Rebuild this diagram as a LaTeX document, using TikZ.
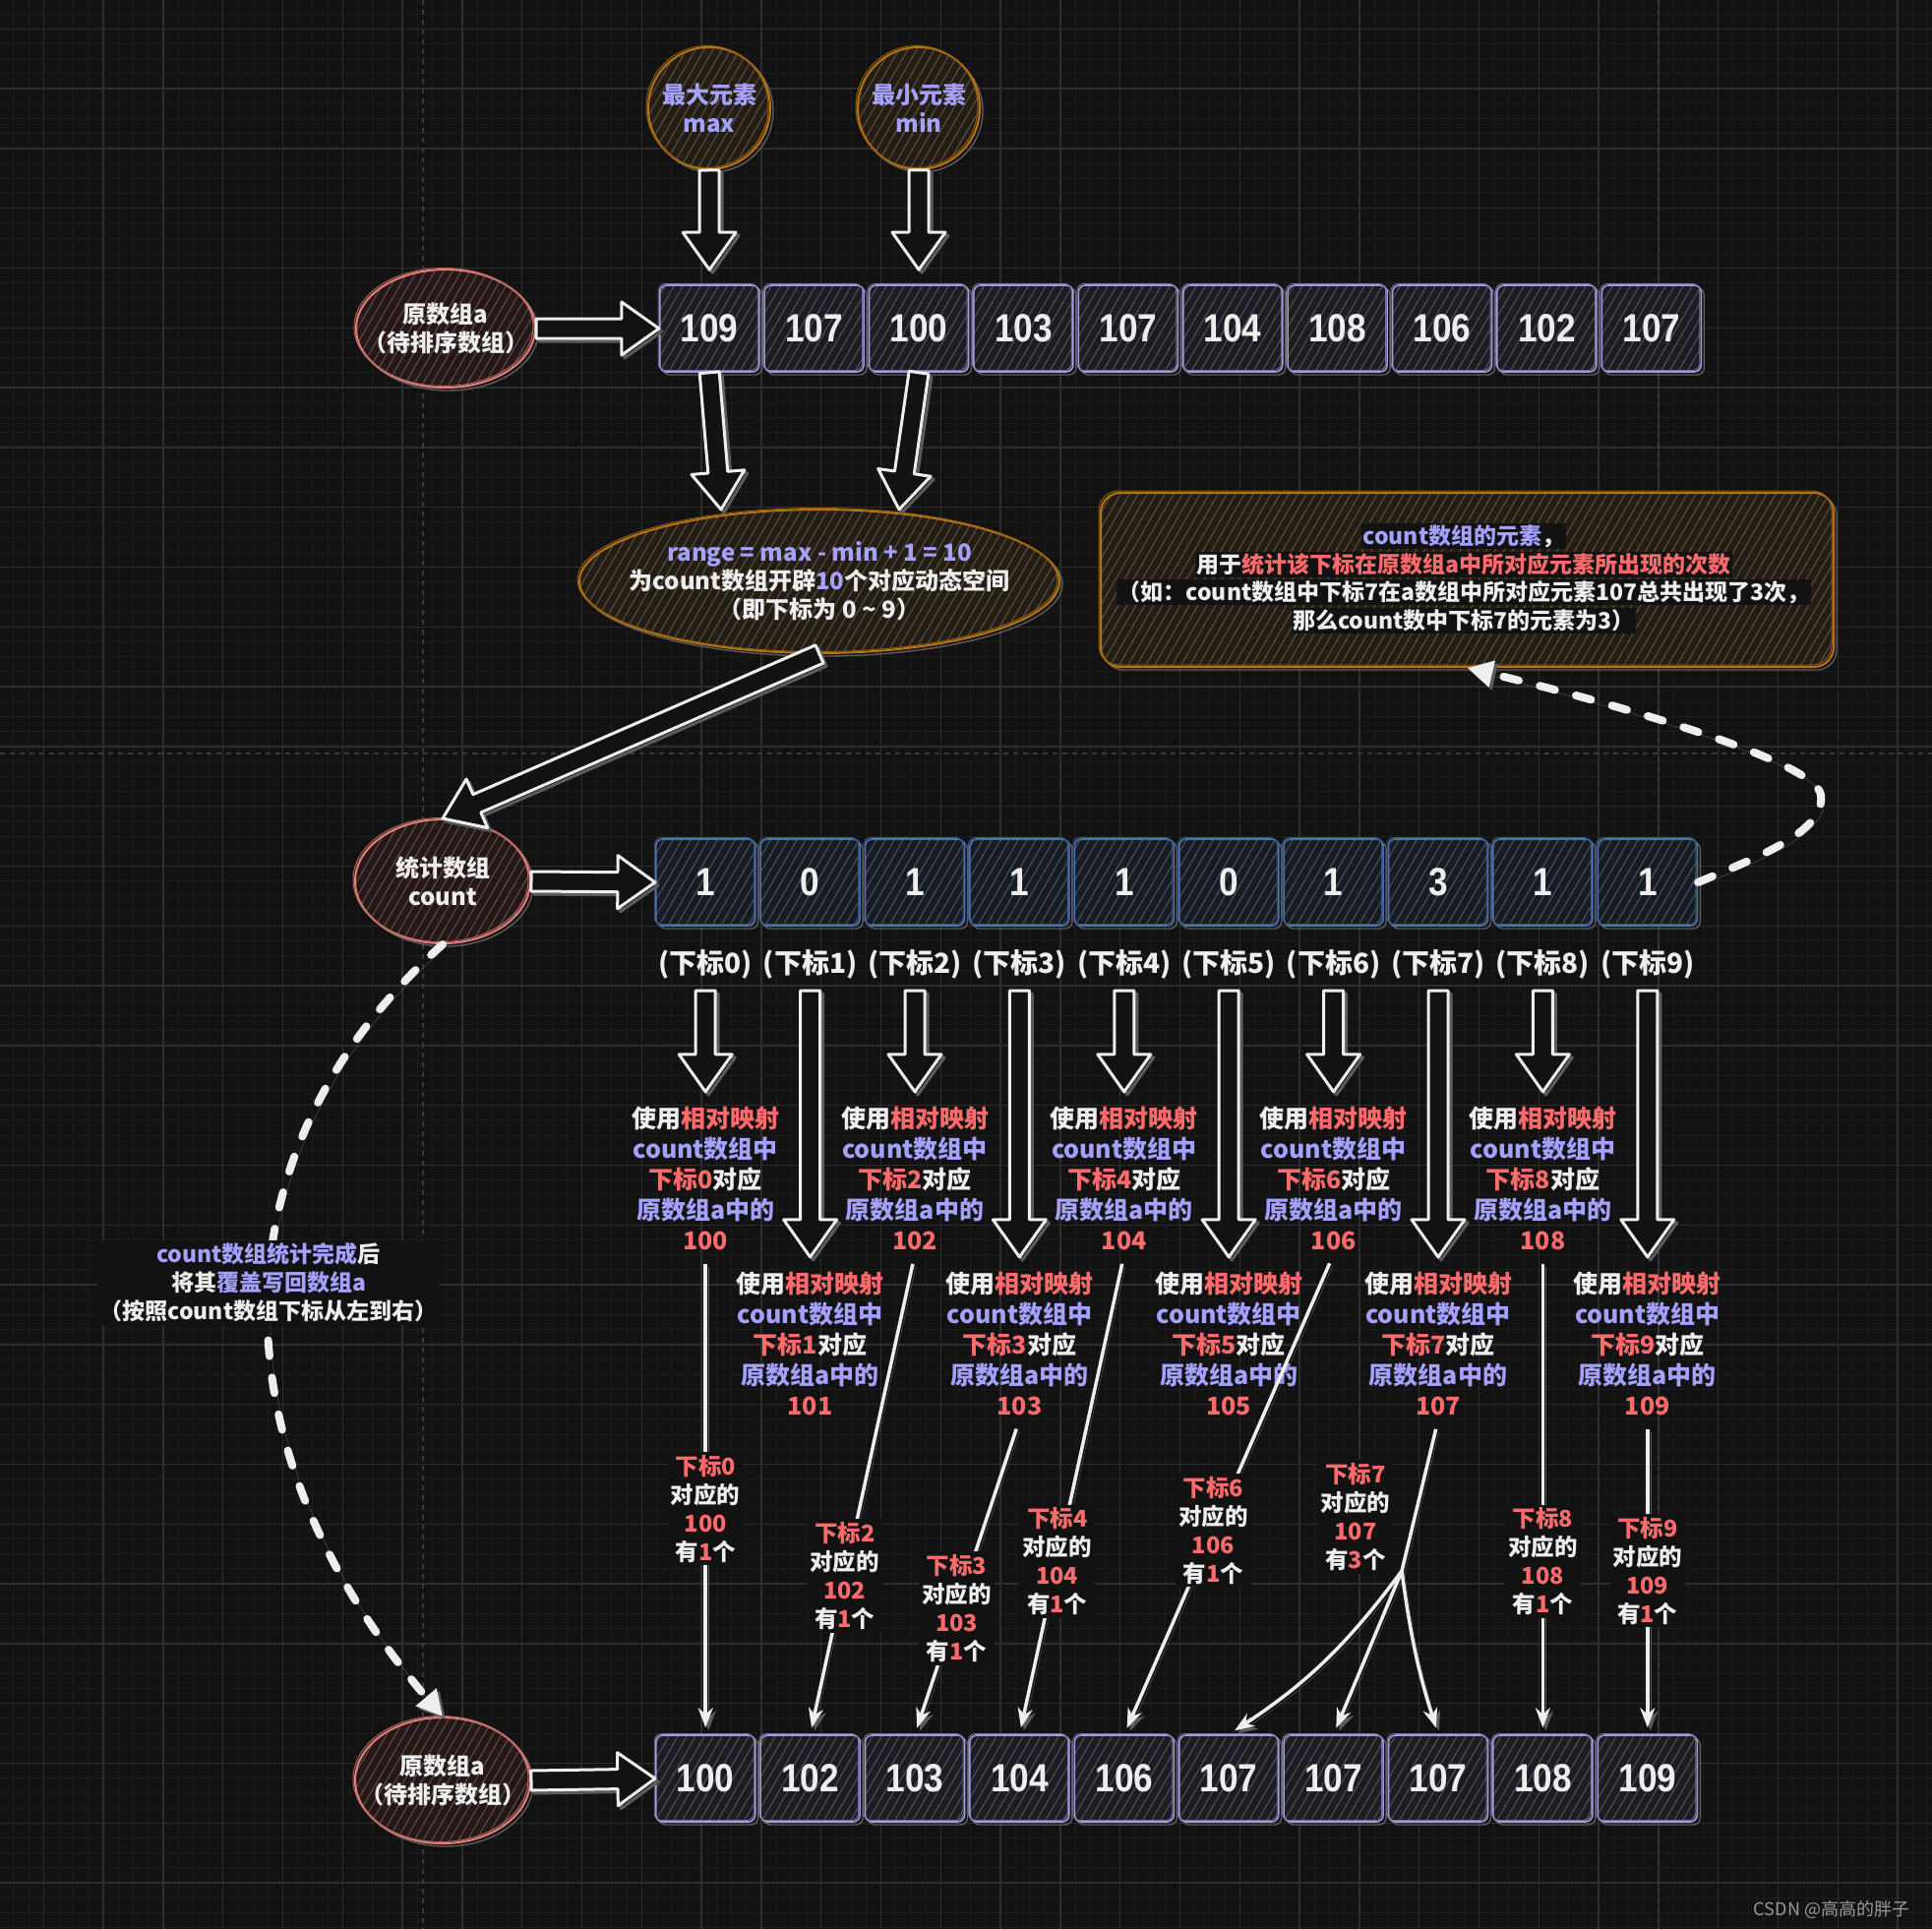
\documentclass[tikz,border=0pt]{standalone}
\usepackage{fontspec}
\setmainfont{Noto Sans CJK SC}
\newfontfamily\numfont{Liberation Sans}[FakeStretch=0.88]
\usetikzlibrary{shapes.geometric,arrows.meta,calc,patterns}
\definecolor{bg}{HTML}{121212}
\definecolor{gmin}{HTML}{1C1C1C}
\definecolor{gmaj}{HTML}{2D2D2D}
\definecolor{guide}{HTML}{3A3A3A}
\definecolor{txtw}{HTML}{EEEEEE}
\definecolor{pur}{HTML}{A5A1FF}
\definecolor{redt}{HTML}{FF6B6B}
\definecolor{orng}{HTML}{B87410}
\definecolor{salm}{HTML}{E57F7A}
\definecolor{lav}{HTML}{A19DDC}
\definecolor{blu}{HTML}{4E73B2}
\definecolor{shc}{HTML}{5C5C5C}
\definecolor{hatchc}{HTML}{525252}
\definecolor{cellA}{HTML}{1D1C25}
\definecolor{cellC}{HTML}{161C26}
\definecolor{ofill}{HTML}{261D12}
\definecolor{rfill}{HTML}{281717}
\definecolor{wmark}{HTML}{9A9A9A}

\pgfdeclarepatternformonly{hatch}{\pgfqpoint{-1pt}{-1pt}}{\pgfqpoint{10pt}{16.6pt}}{\pgfqpoint{9pt}{15.59pt}}{%
  \pgfsetlinewidth{1pt}%
  \pgfpathmoveto{\pgfqpoint{-1pt}{-1.732pt}}%
  \pgfpathlineto{\pgfqpoint{10pt}{17.32pt}}%
  \pgfusepath{stroke}}

\newcommand{\barrowdraw}[4]{\draw[#1] ($(#2)!10pt!90:(#3)$) -- ($(#4)!10pt!90:(#3)$) -- ($(#4)!27pt!90:(#3)$) -- (#3) -- ($(#4)!27pt!-90:(#3)$) -- ($(#4)!10pt!-90:(#3)$) -- ($(#2)!10pt!-90:(#3)$) -- cycle;}
\newcommand{\barrow}[3]{\coordinate (#1-h) at ($(#3)!38pt!(#2)$);\barrowdraw{bashadow}{#2}{#3}{#1-h}\barrowdraw{babody}{#2}{#3}{#1-h}}

\begin{document}
\begin{tikzpicture}[x=1pt,y=-1pt,
  bashadow/.style={draw=shc, line width=3pt, line join=round, transform canvas={shift={(3pt,-3pt)}}},
  babody/.style={draw=txtw, line width=3pt, line join=round, fill=bg},
  sk/.style={preaction={draw=shc, line width=1.4pt, transform canvas={shift={(3pt,-3pt)}}}, preaction={fill=#1}, pattern=hatch, pattern color=hatchc},
  cellbase/.style={rectangle, rounded corners=7pt, minimum width=101pt, minimum height=88pt, line width=1.6pt, inner sep=0pt, text=txtw, font=\numfont\bfseries\fontsize{40}{40}\selectfont, sk=#1},
  acell/.style={cellbase=cellA, draw=lav, postaction={draw=lav!70!bg, line width=0.9pt, transform canvas={shift={(-1.5pt,1.5pt)}}}},
  ccell/.style={cellbase=cellC, draw=blu, postaction={draw=blu!70!bg, line width=0.9pt, transform canvas={shift={(-1.5pt,1.5pt)}}}},
  oell/.style={ellipse, inner sep=0pt, line width=2pt, sk=ofill, draw=orng, postaction={draw=orng!75!bg, line width=1pt, transform canvas={shift={(-2pt,1.5pt)}}}},
  rell/.style={ellipse, inner sep=0pt, line width=2pt, sk=rfill, draw=salm, postaction={draw=salm!75!bg, line width=1pt, transform canvas={shift={(-2pt,1.5pt)}}}},
  infobox/.style={rectangle, rounded corners=20pt, inner sep=0pt, line width=2pt, sk=ofill, draw=orng, postaction={draw=orng!75!bg, line width=1pt, transform canvas={shift={(-2pt,2pt)}}}},
  txt/.style={text=txtw, font=\bfseries\fontsize{24}{29}\selectfont, align=center, inner sep=1pt},
  iline/.style={fill=bg, text=txtw, font=\bfseries\fontsize{23}{28}\selectfont, inner sep=1.5pt},
  idxl/.style={text=txtw, font=\bfseries\fontsize{28}{30}\selectfont, inner sep=0pt},
  tblock/.style={text=txtw, font=\bfseries\fontsize{25}{31}\selectfont, align=center, inner sep=4pt},
  mlab/.style={fill=bg, text=txtw, font=\bfseries\fontsize{23.5}{29}\selectfont, align=center, inner sep=3pt},
  clab/.style={fill=bg, text=txtw, font=\bfseries\fontsize{23}{29}\selectfont, align=center, inner sep=3pt},
  mapl/.style={draw=txtw, line width=3.5pt, -{Stealth[length=20pt,width=15pt]}, shorten >=7pt, shorten <=10pt, preaction={draw=shc, transform canvas={shift={(3pt,-3pt)}}}},
  dconn/.style={draw=txtw, line width=8pt, dash pattern=on 16pt off 22pt, line cap=round, -{Triangle[length=26pt,width=26pt]}, preaction={draw=shc, transform canvas={shift={(3pt,-3pt)}}}},
  gl/.style={draw=gmin, line width=1pt},
  gj/.style={draw=gmaj, line width=1.5pt},
  gd/.style={draw=guide, line width=1.5pt, dash pattern=on 5pt off 5pt}
]
\fill[bg] (0,0) rectangle (1964,1961);
\useasboundingbox (0,0) rectangle (1964,1961);
% grid
\foreach \i in {0,...,129} {\draw[gl] ({13.9+\i*15.2},0) -- ++(0,1961);}
\foreach \i in {0,...,129} {\draw[gl] (0,{14.1+\i*15.2}) -- ++(1964,0);}
\foreach \i in {0,...,32} {\draw[gj] ({44.3+\i*60.8},0) -- ++(0,1961);}
\foreach \i in {0,...,32} {\draw[gj] (0,{29.3+\i*60.8}) -- ++(1964,0);}
\draw[gd] (0,766) -- (1964,766);
\draw[gd] (430,0) -- (430,1961);
\draw[gd] (1686,0) -- (1686,1961);

% top circles
\node[oell, minimum width=124pt, minimum height=124pt] (maxc) at (721,110) {};
\node[txt, text=pur] (maxct) at (maxc) {最大元素\\max};
\node[oell, minimum width=124pt, minimum height=124pt] (minc) at (934,110) {};
\node[txt, text=pur] (minct) at (minc) {最小元素\\min};

% top array
\foreach \i/\v in {0/109,1/107,2/100,3/103,4/107,5/104,6/108,7/106,8/102,9/107}
  {\node[acell] (a\i) at ({668+106.4*(\i+0.5)},334) {\v};}

\node[rell, minimum width=182pt, minimum height=120pt] (orig1) at (453,334) {};
\node[txt] (orig1t) at (orig1) {原数组a\\（待排序数组）};

% range ellipse
\node[oell, minimum width=488pt, minimum height=146pt] (rng) at (833,591) {};
\node[txt] (rngt) at (rng) {\textcolor{pur}{range = max - min + 1 = 10}\\为count数组开辟\textcolor{pur}{10}个对应动态空间\\（即下标为 0 \textasciitilde{} 9）};

% info box
\node[infobox, minimum width=745pt, minimum height=177pt] (info) at (1491.5,589.5) {};
\node[iline] (il1) at (1488,545) {\textcolor{pur}{count数组的元素}，};
\node[iline] (il2) at (1488,574) {用于\textcolor{redt}{统计该下标在原数组a中所对应元素所出现的次数}};
\node[iline] (il3) at (1488,602) {（如：count数组中下标7在a数组中所对应元素107总共出现了3次，};
\node[iline] (il4) at (1488,631) {那么count数中下标7的元素为3）};

% count circle and array
\node[rell, minimum width=178pt, minimum height=126pt] (cnt) at (450,896) {};
\node[txt] (cntt) at (cnt) {统计数组\\count};
\foreach \i/\v in {0/1,1/0,2/1,3/1,4/1,5/0,6/1,7/3,8/1,9/1}
  {\node[ccell] (c\i) at ({664+106.4*(\i+0.5)},897) {\v};}
\foreach \i in {0,...,9}
  {\node[idxl] (idx\i) at ({664+106.4*(\i+0.5)},980) {(下标\i)};}

% text blocks
\foreach \i/\ty in {0/1198,1/1366,2/1198,3/1366,4/1198,5/1366,6/1198,7/1366,8/1198,9/1366}
  {\node[tblock] (t\i) at ({664+106.4*(\i+0.5)},\ty) {使用\textcolor{redt}{相对映射}\\\textcolor{pur}{count数组中}\\\textcolor{redt}{下标\i}对应\\\textcolor{pur}{原数组a中的}\\\textcolor{redt}{\the\numexpr100+\i\relax}};}

% bottom array
\foreach \i/\v in {0/100,1/102,2/103,3/104,4/106,5/107,6/107,7/107,8/108,9/109}
  {\node[acell] (b\i) at ({664+106.4*(\i+0.5)},1808) {\v};}
\node[rell, minimum width=178pt, minimum height=128pt] (orig2) at (450,1810) {};
\node[txt] (orig2t) at (orig2) {原数组a\\（待排序数组）};

% block arrows
\coordinate (a0in) at ($(a0.north)+(0,-15)$);
\coordinate (a2in) at ($(a2.north)+(0,-15)$);
\coordinate (rin1) at (733,518);
\coordinate (rin2) at (914,518);
\barrow{ba1}{maxc.south}{a0in}
\barrow{ba2}{minc.south}{a2in}
\barrow{ba3}{orig1.east}{a0.west}
\barrow{ba4}{a0.south}{rin1}
\barrow{ba5}{a2.south}{rin2}
\barrow{ba6}{rng.south}{cnt.north}
\barrow{ba7}{cnt.east}{c0.west}
\barrow{ba9}{orig2.east}{b0.west}
\foreach \i in {0,...,9}
  {\coordinate (s\i) at ($(idx\i.south)+(0,12)$);
   \coordinate (e\i) at ($(t\i.north)+(0,-11)$);
   \barrow{bi\i}{s\i}{e\i}}

% mapping arrows
\draw[mapl] (t0.south) -- node[mlab,pos=0.53] (m0) {\textcolor{redt}{下标0}\\对应的\\\textcolor{redt}{100}\\有\textcolor{redt}{1}个} (b0.north);
\draw[mapl] (t2.south) -- node[mlab,pos=0.67] (m2) {\textcolor{redt}{下标2}\\对应的\\\textcolor{redt}{102}\\有\textcolor{redt}{1}个} (b1.north);
\draw[mapl] (t3.south) -- node[mlab,pos=0.6] (m3) {\textcolor{redt}{下标3}\\对应的\\\textcolor{redt}{103}\\有\textcolor{redt}{1}个} (b2.north);
\draw[mapl] (t4.south) -- node[mlab,pos=0.64] (m4) {\textcolor{redt}{下标4}\\对应的\\\textcolor{redt}{104}\\有\textcolor{redt}{1}个} (b3.north);
\draw[mapl] (t6.south) -- node[mlab,pos=0.575] (m6) {\textcolor{redt}{下标6}\\对应的\\\textcolor{redt}{106}\\有\textcolor{redt}{1}个} (b4.north);
\draw[mapl] (t8.south) -- node[mlab,pos=0.64] (m8) {\textcolor{redt}{下标8}\\对应的\\\textcolor{redt}{108}\\有\textcolor{redt}{1}个} (b8.north);
\draw[mapl] (t9.south) -- node[mlab,pos=0.48] (m9) {\textcolor{redt}{下标9}\\对应的\\\textcolor{redt}{109}\\有\textcolor{redt}{1}个} (b9.north);
\coordinate (split) at (1425,1597);
\draw[mapl,-,shorten >=0pt] (t7.south) -- (split);
\draw[mapl,shorten <=0pt] (split) to[bend left=10] (b5.north);
\draw[mapl,shorten <=0pt] (split) -- (b6.north);
\draw[mapl,shorten <=0pt] (split) to[bend right=5] (b7.north);
\node[mlab] (m7) at (1378,1542) {\textcolor{redt}{下标7}\\对应的\\\textcolor{redt}{107}\\有\textcolor{redt}{3}个};

% dashed connectors
\draw[dconn] (c9.east) .. controls (1790,870) and (1856,845) .. (1851,808) .. controls (1845,770) and (1600,705) .. (info.south);
\draw[dconn] (cnt.south) .. controls (215,1170) and (215,1470) .. (orig2.north);
\node[clab] (cl) at (273,1304) {\textcolor{pur}{count数组统计完成}后\\将其\textcolor{pur}{覆盖写回数组a}\\（按照count数组下标从左到右）};

\node[text=wmark, font=\fontsize{18}{20}\selectfont, inner sep=0pt] (wm) at (1862,1941) {CSDN @高高的胖子};
\end{tikzpicture}
\end{document}
